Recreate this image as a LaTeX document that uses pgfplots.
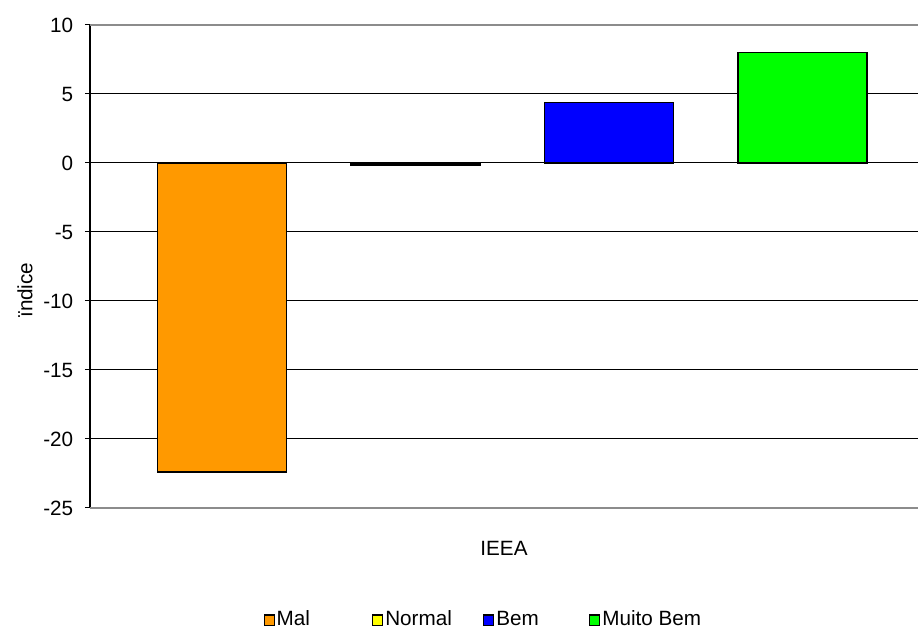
\documentclass[border=0pt]{standalone}
\usepackage{pgfplots}
\pgfplotsset{compat=1.18}
\usepackage{fontspec}
\setmainfont{Liberation Sans}
\definecolor{cMal}{HTML}{FF9900}
\definecolor{cNormal}{HTML}{FFFF00}
\definecolor{cBem}{HTML}{0000FF}
\definecolor{cMuito}{HTML}{00FF00}
\definecolor{gline}{HTML}{8C8C8C}
\begin{document}
\fontsize{15.5}{18}\selectfont
\begin{tikzpicture}
\useasboundingbox (0,0) rectangle (689.25pt,472.5pt);
\begin{axis}[
  at={(67.5pt,91.5pt)}, anchor=south west,
  scale only axis, width=621pt, height=362.25pt,
  xmin=-0.682, xmax=3.597, ymin=-25, ymax=10,
  axis x line*=bottom,
  axis y line*=left,
  x axis line style={gline, line width=1.4pt, -},
  y axis line style={black, line width=0.9pt, -},
  ytick={-20,-15,-10,-5,0,5},
  extra y ticks={-25,10},
  extra y tick style={grid style={gline, line width=1.4pt}},
  ymajorgrids, grid style={black, line width=0.75pt},
  tick align=outside, major tick length=3.75pt,
  tick style={black, line width=0.75pt},
  xtick=\empty,
  /pgf/number format/assume math mode=true,
  ticklabel style={font=\fontsize{15.5}{18}\selectfont},
  yticklabel style={xshift=-3.5pt},
  ylabel={ïndice},
  every axis y label/.style={at={(axis description cs:-0.0785,0.451)}, rotate=90, anchor=center, font=\fontsize{15.5}{18}\selectfont},
  xlabel={IEEA},
  every axis x label/.style={at={(axis description cs:0.5,-0.0828)}, anchor=center, font=\fontsize{15.5}{18}\selectfont},
  ybar, bar width=96.75pt, bar shift=0pt,
  legend columns=4,
  legend style={at={(axis description cs:0.475,-0.232)}, anchor=center, draw=none, fill=none,
    font=\fontsize{15.5}{18}\selectfont, inner sep=0pt,
    nodes={inner sep=1.5pt}},
  legend image code/.code={\draw[#1, draw=black, line width=0.8pt] (0pt,-3.8pt) rectangle (7.6pt,3.8pt);},
]
\addplot[fill=cMal, draw=black, line width=1.1pt] coordinates {(0,-22.4)};
\addlegendentry{\makebox[70pt][l]{Mal}}
\addplot[fill=cNormal, draw=black, line width=1.1pt] coordinates {(1,-0.15)};
\addlegendentry{\makebox[72pt][l]{Normal}}
\addplot[fill=cBem, draw=black, line width=1.1pt] coordinates {(2,4.4)};
\addlegendentry{\makebox[68pt][l]{Bem}}
\addplot[fill=cMuito, draw=black, line width=1.1pt] coordinates {(3,8.0)};
\addlegendentry{Muito Bem}
\end{axis}
\end{tikzpicture}
\end{document}
